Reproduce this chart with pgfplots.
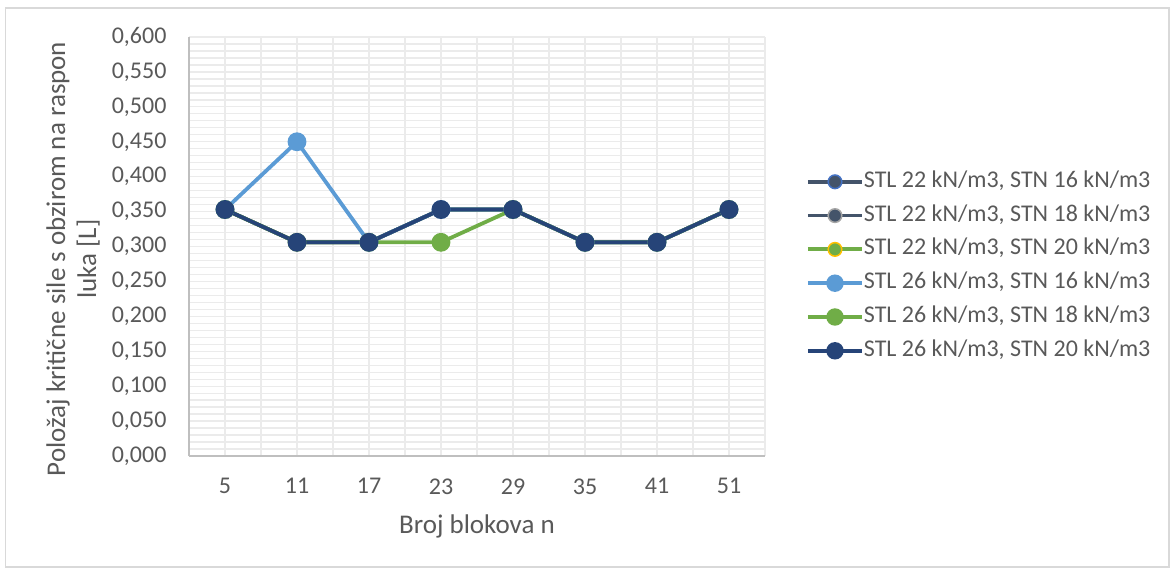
\documentclass[border=0pt]{standalone}
\usepackage{pgfplots}
\pgfplotsset{compat=1.18}
\usepackage{fontspec}
\setmainfont{Carlito}

\definecolor{txt}{HTML}{595959}
\definecolor{gridc}{HTML}{EBEBEB}
\definecolor{axc}{HTML}{BFBFBF}
\definecolor{frame}{HTML}{D9D9D9}
\definecolor{cA}{HTML}{44546A}
\definecolor{cBlue}{HTML}{4472C4}
\definecolor{cGray}{HTML}{A5A5A5}
\definecolor{cGreen}{HTML}{70AD47}
\definecolor{cGold}{HTML}{FFC000}
\definecolor{cLight}{HTML}{5B9BD5}
\definecolor{cDark}{HTML}{264478}

\newcommand{\tickfont}{\fontsize{24}{29}\selectfont}
\newcommand{\labfont}{\fontsize{27}{33}\selectfont}

\begin{document}
\begin{tikzpicture}[x=1pt,y=1pt]
\path[use as bounding box] (0,0) rectangle (1174,570);
\draw[frame, line width=1.2pt] (5.5,3) rectangle (1169,562);
\begin{axis}[
    at={(189pt,114pt)}, anchor=south west,
    scale only axis, width=576pt, height=419pt,
    xmin=-0.5, xmax=7.5, ymin=0, ymax=0.6,
    xtick={0,...,7},
    xticklabels={5,11,17,23,29,35,41,51},
    minor xtick={-0.5,0.5,1.5,2.5,3.5,4.5,5.5,6.5,7.5},
    ytick={0,0.05,0.1,0.15,0.2,0.25,0.3,0.35,0.4,0.45,0.5,0.55,0.6},
    minor y tick num=4,
    grid=both,
    major grid style={gridc, line width=1.3pt},
    minor grid style={gridc, line width=1.3pt},
    major tick length=0pt, minor tick length=0pt,
    axis lines*=left,
    axis line style={axc, line width=1.5pt, -},
    /pgf/number format/fixed,
    /pgf/number format/fixed zerofill,
    /pgf/number format/precision=3,
    /pgf/number format/use comma,
    /pgf/number format/assume math mode=true,
    yticklabel style={xshift=-19pt},
    xticklabel style={yshift=-19pt},
    tick label style={font=\tickfont, text=txt},
    xlabel={Broj blokova n},
    ylabel={Položaj kritične sile s obzirom na raspon\\[-2pt]luka [L]},
    label style={font=\labfont, text=txt},
    xlabel style={at={(axis description cs:0.5,-0.167)}, anchor=center},
    ylabel style={at={(axis description cs:-0.2014,0.47)}, anchor=center, align=center},
    legend style={
        at={(axis description cs:1.071,0.680)}, anchor=north west,
        draw=none, fill=none, inner sep=0pt,
        font=\tickfont, text=txt,
        nodes={text height=16pt, text depth=5pt, inner sep=0pt},
        row sep=12.8pt,
        /tikz/every even column/.append style={column sep=3pt}},
    legend cell align=left,
    legend image code/.code={
        \draw[mark repeat=2, mark phase=2, #1, mark size=6.8pt]
            plot coordinates {(0pt,0pt) (27pt,0pt) (54pt,0pt)};},
    every axis plot/.append style={line width=3.8pt, mark=*, mark size=7.5pt},
]
% STL 22 / STN 16
\addplot[cA, mark options={fill=cA, draw=cBlue, line width=1.5pt}]
    coordinates {(0,0.353) (1,0.306) (2,0.306) (3,0.353) (4,0.353) (5,0.306) (6,0.306) (7,0.353)};
% STL 22 / STN 18
\addplot[cA, mark options={fill=cA, draw=cGray, line width=1.5pt}]
    coordinates {(0,0.353) (1,0.306) (2,0.306) (3,0.353) (4,0.353) (5,0.306) (6,0.306) (7,0.353)};
% STL 22 / STN 20
\addplot[cGreen, mark options={fill=cGreen, draw=cGold, line width=1.5pt}]
    coordinates {(0,0.353) (1,0.306) (2,0.306) (3,0.353) (4,0.353) (5,0.306) (6,0.306) (7,0.353)};
% STL 26 / STN 16
\addplot[cLight, mark options={fill=cLight, draw=cLight}]
    coordinates {(0,0.353) (1,0.450) (2,0.306) (3,0.353) (4,0.353) (5,0.306) (6,0.306) (7,0.353)};
% STL 26 / STN 18
\addplot[cGreen, mark options={fill=cGreen, draw=cGreen}]
    coordinates {(0,0.353) (1,0.306) (2,0.306) (3,0.306) (4,0.353) (5,0.306) (6,0.306) (7,0.353)};
% STL 26 / STN 20
\addplot[cDark, mark options={fill=cDark, draw=cDark}]
    coordinates {(0,0.353) (1,0.306) (2,0.306) (3,0.353) (4,0.353) (5,0.306) (6,0.306) (7,0.353)};
\legend{{STL 22 kN/m3, STN 16 kN/m3},
        {STL 22 kN/m3, STN 18 kN/m3},
        {STL 22 kN/m3, STN 20 kN/m3},
        {STL 26 kN/m3, STN 16 kN/m3},
        {STL 26 kN/m3, STN 18 kN/m3},
        {STL 26 kN/m3, STN 20 kN/m3}}
\end{axis}
\end{tikzpicture}
\end{document}
